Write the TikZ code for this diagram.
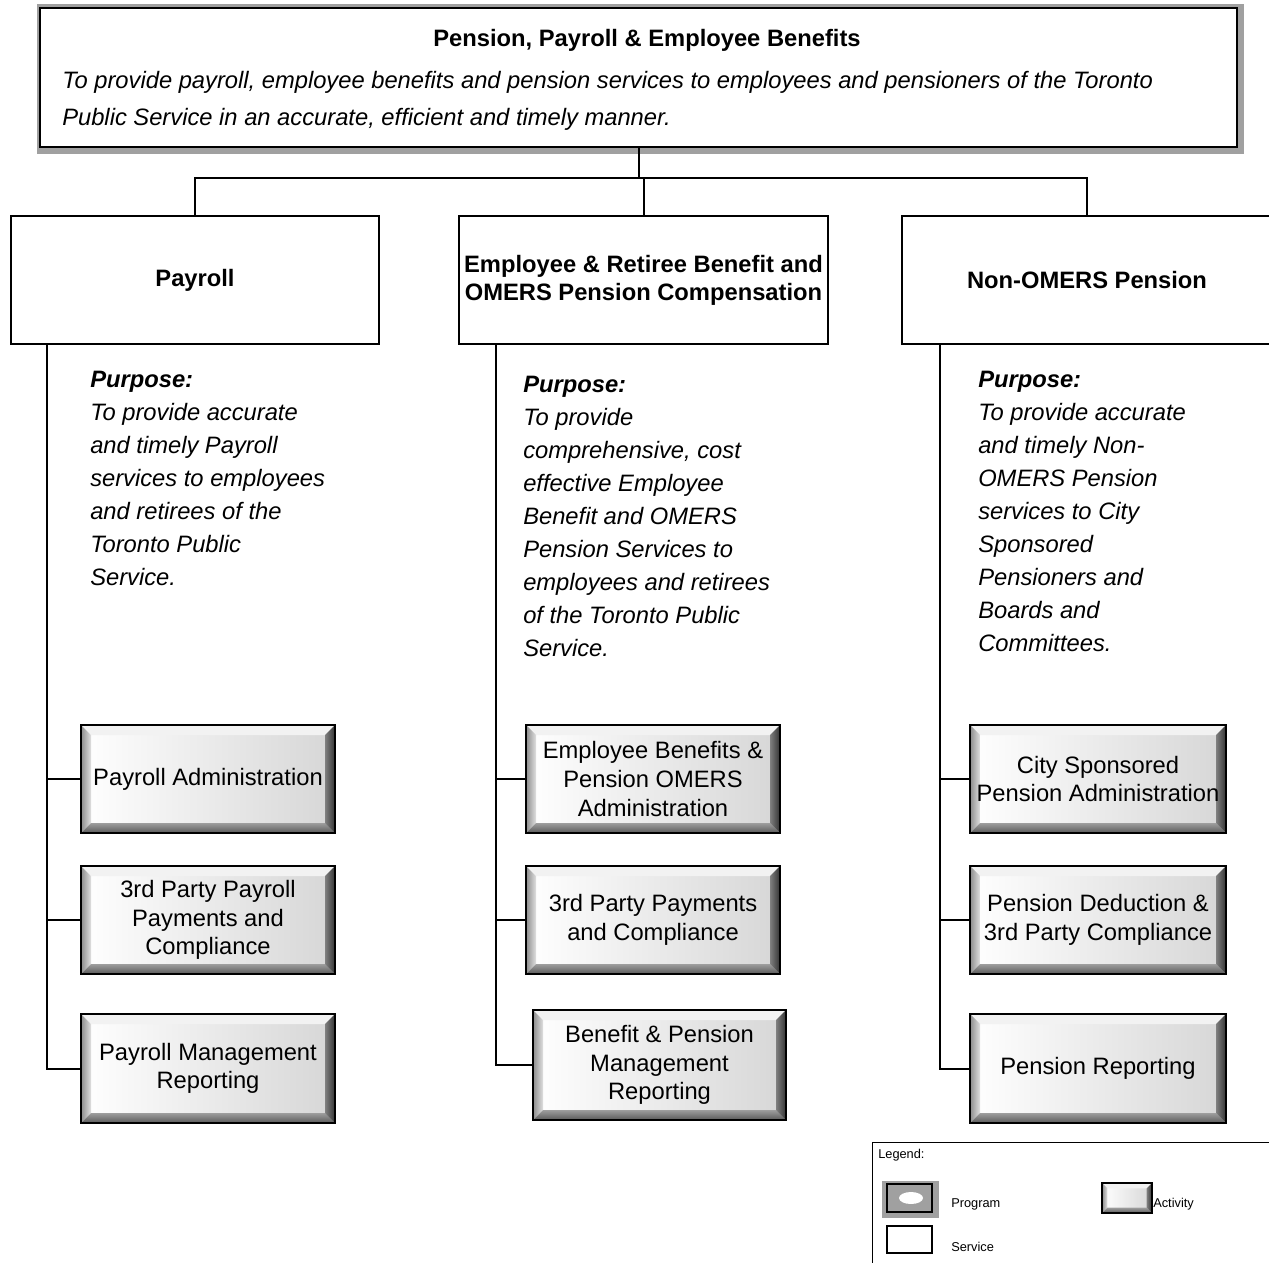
\documentclass[tikz,border=0pt]{standalone}
\usepackage{fontspec}
\setmainfont{Liberation Sans}
\usetikzlibrary{backgrounds}
\definecolor{progray}{HTML}{A0A0A0}
\begin{document}
\begin{tikzpicture}[x=0.75pt,y=-0.75pt,
  sz/.style 2 args={minimum width=#1*0.75pt, minimum height=#2*0.75pt},
  link/.style={line width=1.5pt, black},
  svc/.style={draw=black, line width=1.5pt, fill=white, inner sep=0pt, align=center,
    font=\bfseries\fontsize{17.8}{21}\selectfont, sz={368}{128}},
  bevelled/.style={path picture={
    \coordinate (bsw) at (path picture bounding box.south west);
    \coordinate (bne) at (path picture bounding box.north east);
    \coordinate (bnw) at (path picture bounding box.north west);
    \coordinate (bse) at (path picture bounding box.south east);
    \shade[left color=white, right color=black!16] (bsw) rectangle (bne);
    \fill[black!5] (bnw) -- (bne) -- ([shift={(-#1,-#1)}]bne) -- ([shift={(#1,-#1)}]bnw) -- cycle;
    \shade[left color=black!45, right color=black!12] (bnw) -- ([shift={(#1,-#1)}]bnw) -- ([shift={(#1,#1)}]bsw) -- (bsw) -- cycle;
    \shade[top color=black!38, bottom color=black!65] (bsw) -- ([shift={(#1,#1)}]bsw) -- ([shift={(-#1,#1)}]bse) -- (bse) -- cycle;
    \shade[left color=black!50, right color=black!80] (bse) -- ([shift={(-#1,#1)}]bse) -- ([shift={(-#1,-#1)}]bne) -- (bne) -- cycle;
  }},
  act/.style={draw=black, line width=1.8pt, inner sep=0pt, align=center,
    font=\fontsize{17.8}{21.4}\selectfont, bevelled=7.5pt},
  purpose/.style={anchor=north west, inner sep=0pt, align=left,
    font=\itshape\fontsize{17.8}{24.75}\selectfont},
  legtext/.style={anchor=west, inner sep=0pt, font=\fontsize{9.6}{11}\selectfont}
]
\useasboundingbox (0,0) rectangle (1269,1262);
\clip (0,0) rectangle (1269,1262);

% Program (top) box
\node[draw=black, line width=1.5pt, fill=white, inner sep=0pt, sz={1197}{139}] (top) at (638.5,77.5) {};
\begin{scope}[on background layer]
  \fill[progray] (37,4) rectangle (1244,154);
\end{scope}
\node[inner sep=0pt, font=\bfseries\fontsize{17.8}{21}\selectfont] (title) at (647,40) {Pension, Payroll \& Employee Benefits};
\node[anchor=north west, align=left, inner sep=0pt, font=\itshape\fontsize{17.8}{27.75}\selectfont] (mission) at (62,71)
  {To provide payroll, employee benefits and pension services to employees and pensioners of the Toronto\\Public Service in an accurate, efficient and timely manner.};

% Services
\node[svc] (svcA) at (195,280) {Payroll};
\node[svc, sz={369}{128}] (svcB) at (643.5,280) {Employee \& Retiree Benefit and\\OMERS Pension Compensation};
\node[svc, sz={370}{128}] (svcC) at (1087,280) {Non-OMERS Pension};

% Bus connectors
\coordinate (hub) at (638,178);
\draw[link] (top.south) -- (top.south |- hub);
\draw[link] (svcA.north) -- (svcA.north |- hub) -- (svcC.north |- hub) -- (svcC.north);
\draw[link] (svcB.north |- hub) -- (svcB.north);

% Purposes
\node[purpose] (pA) at (90,371) {\textbf{Purpose:}\\To provide accurate\\and timely Payroll\\services to employees\\and retirees of the\\Toronto Public\\Service.};
\node[purpose] (pB) at (523,376) {\textbf{Purpose:}\\To provide\\comprehensive, cost\\effective Employee\\Benefit and OMERS\\Pension Services to\\employees and retirees\\of the Toronto  Public\\Service.};
\node[purpose] (pC) at (978,371) {\textbf{Purpose:}\\To provide accurate\\and timely Non-\\OMERS Pension\\services to City\\Sponsored\\Pensioners and\\Boards and\\Committees.};

% Activities
\node[act, sz={254}{108}] (a1) at (208,779) {Payroll Administration};
\node[act, sz={254}{108}] (a2) at (208,920) {3rd Party Payroll\\Payments and\\Compliance};
\node[act, sz={254}{109}] (a3) at (208,1068.5) {Payroll Management\\Reporting};
\node[act, sz={254}{108}] (b1) at (653,779) {Employee Benefits \&\\Pension OMERS\\Administration};
\node[act, sz={254}{108}] (b2) at (653,920) {3rd Party Payments\\and Compliance};
\node[act, sz={253}{110}] (b3) at (659.5,1065) {Benefit \& Pension\\Management\\Reporting};
\node[act, sz={256}{108}] (c1) at (1098,779) {City Sponsored\\Pension Administration};
\node[act, sz={256}{108}] (c2) at (1098,920) {Pension Deduction \&\\3rd Party Compliance};
\node[act, sz={256}{109}] (c3) at (1098,1068.5) {Pension Reporting};

% Spines
\coordinate (spA) at (47,344);
\coordinate (spB) at (496,344);
\coordinate (spC) at (940,344);
\draw[link] (spA) |- (a3.west);
\draw[link] (spA |- a1.west) -- (a1.west);
\draw[link] (spA |- a2.west) -- (a2.west);
\draw[link] (spB) |- (b3.west);
\draw[link] (spB |- b1.west) -- (b1.west);
\draw[link] (spB |- b2.west) -- (b2.west);
\draw[link] (spC) |- (c3.west);
\draw[link] (spC |- c1.west) -- (c1.west);
\draw[link] (spC |- c2.west) -- (c2.west);

% Legend
\node[draw=black, line width=1.1pt, anchor=north west, inner sep=0pt, sz={420}{150}] (legend) at (872,1142) {};
\node[legtext] (legt) at (878,1155) {Legend:};
\fill[progray] (882,1181) rectangle (939,1218);
\node[draw=black, line width=1.1pt, fill=progray, inner sep=0pt, sz={45}{28}] (iprog) at (909.5,1198) {};
\fill[white] (911,1198) ellipse [x radius=12, y radius=6];
\node[legtext] (lprog) at (951,1204) {Program};
\node[draw=black, line width=1.1pt, inner sep=0pt, sz={50}{30}, bevelled=4pt] (iact) at (1127,1198) {};
\node[legtext] (lact) at (1153,1204) {Activity};
\node[draw=black, line width=1.1pt, fill=white, inner sep=0pt, sz={45}{27}] (isvc) at (909.5,1239.5) {};
\node[legtext] (lsvc) at (951,1247) {Service};
\end{tikzpicture}
\end{document}
